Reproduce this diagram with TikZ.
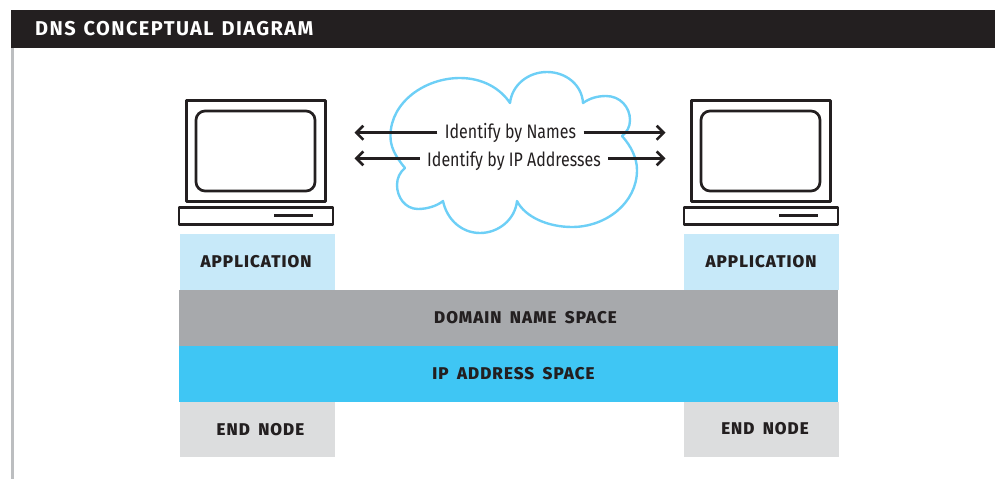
\documentclass[tikz,border=0pt]{standalone}
\usepackage{fontspec}
\setmainfont{Fira Sans}
\newfontfamily\heavyfont[LetterSpace=6,WordSpace=1.7]{Fira Sans ExtraBold}
\newfontfamily\titlefont[LetterSpace=7,WordSpace=1.3]{Fira Sans}
\usetikzlibrary{arrows.meta}
\definecolor{hdrblack}{HTML}{231F20}
\definecolor{appblue}{HTML}{C7E9F9}
\definecolor{domgray}{HTML}{A7A9AC}
\definecolor{ipblue}{HTML}{3FC6F4}
\definecolor{endgray}{HTML}{DCDDDE}
\definecolor{cloudblue}{HTML}{6DCFF6}
\definecolor{railgray}{HTML}{BCBEC0}
\tikzset{
  layer/.style={inner sep=0,outer sep=0},
  tag/.style={inner sep=0,text=hdrblack,font=\heavyfont\fontsize{17}{19}\selectfont},
  hw/.style={draw=hdrblack,line width=2.7pt,inner sep=0,outer sep=0},
  say/.style={inner sep=0,outer sep=7.5pt,text=hdrblack,font=\fontsize{19.5}{22}\selectfont\addfontfeature{FakeStretch=0.82}},
  link/.style={draw=hdrblack,line width=2.6pt,-{Straight Barb[length=7pt,width=14pt,line width=2.6pt]}}
}
\begin{document}
\begin{tikzpicture}[x=1pt,y=-1pt,line join=round]
  \useasboundingbox (0,0) rectangle (995,479);
  %% Title bar and rail.
  \node[fill=railgray,minimum width=3pt,minimum height=431pt,inner sep=0,outer sep=0] (Rail) at (12.5,263.5) {};
  \node[fill=hdrblack,minimum width=984pt,minimum height=38pt,inner sep=0,outer sep=0] (Title) at (503,29) {};
  \node[inner sep=0,anchor=west,text=white,font=\titlefont\fontsize{20}{22}\selectfont\bfseries] (TitleText) at (35,29) {DNS CONCEPTUAL DIAGRAM};

  %% Cloud behind the arrows.
  \draw[cloudblue,line width=2.4pt]
    (405,168) .. controls (395,156) and (390,146) .. (390.5,135)
    .. controls (391,102) and (425,78) .. (460,78)
    .. controls (482,78) and (500,88) .. (510,103)
    .. controls (512,85) and (528,72) .. (547,72)
    .. controls (566,72) and (582,85) .. (583,103)
    .. controls (590,98) and (598,96) .. (606,96)
    .. controls (620,96) and (630,107) .. (630,120)
    .. controls (630,127) and (627,132) .. (622,136)
    .. controls (631,146) and (637,158) .. (637,170)
    .. controls (637,203) and (606,227) .. (572,227)
    .. controls (548,227) and (525,217) .. (517,201)
    .. controls (515,220) and (498,233) .. (480,233)
    .. controls (462,233) and (447,220) .. (443,201)
    .. controls (437,206) and (427,209) .. (418,209)
    .. controls (405,209) and (397,197) .. (397,185)
    .. controls (397,178) and (400,172) .. (405,168) -- cycle;

  %% Left computer.
  \node[hw,minimum width=139pt,minimum height=100.5pt] (Mon1) at (255.7,151) {};
  \node[hw,rounded corners=9pt,minimum width=119pt,minimum height=80pt] (Scr1) at (255.5,151) {};
  \node[hw,minimum width=154pt,minimum height=17pt] (Base1) at (256,215.7) {};
  \coordinate (SlotA1) at (274,215.3);
  \coordinate (SlotB1) at (312.5,215.3);
  \draw[hdrblack,line width=2.4pt] (SlotA1) -- (SlotB1);
  %% Right computer.
  \node[hw,minimum width=139pt,minimum height=100.5pt] (Mon2) at (760.7,151) {};
  \node[hw,rounded corners=9pt,minimum width=119pt,minimum height=80pt] (Scr2) at (760.5,151) {};
  \node[hw,minimum width=154pt,minimum height=17pt] (Base2) at (761,215.7) {};
  \coordinate (SlotA2) at (779,215.3);
  \coordinate (SlotB2) at (817.5,215.3);
  \draw[hdrblack,line width=2.4pt] (SlotA2) -- (SlotB2);

  %% Labels between the computers.
  \node[say] (Names) at (510.5,133) {Identify by Names};
  \node[say] (Addrs) at (514,161) {Identify by IP Addresses};
  \coordinate (NamesL) at (354.5,132.7);
  \coordinate (NamesR) at (665.5,132.7);
  \coordinate (AddrsL) at (354.5,158.4);
  \coordinate (AddrsR) at (665.5,158.4);
  \draw[link] (Names.west |- NamesL) -- (NamesL);
  \draw[link] (Names.east |- NamesR) -- (NamesR);
  \draw[link] (Addrs.west |- AddrsL) -- (AddrsL);
  \draw[link] (Addrs.east |- AddrsR) -- (AddrsR);

  %% Layers.
  \node[layer,fill=appblue,minimum width=155pt,minimum height=56pt] (App1) at (257.5,262) {};
  \node[layer,fill=appblue,minimum width=155pt,minimum height=56pt] (App2) at (761.5,262) {};
  \node[layer,fill=domgray,minimum width=659pt,minimum height=56pt] (Domain) at (508.5,318) {};
  \node[layer,fill=ipblue,minimum width=659pt,minimum height=56pt] (Ip) at (508.5,374) {};
  \node[layer,fill=endgray,minimum width=155pt,minimum height=55pt] (End1) at (257.5,429.5) {};
  \node[layer,fill=endgray,minimum width=155pt,minimum height=55pt] (End2) at (761.5,429.5) {};
  %% Label text does not sit centred in every band.
  \node[tag] (AppText1) at (256,261.5) {APPLICATION};
  \node[tag] (AppText2) at (761,261.5) {APPLICATION};
  \node[tag] (DomainText) at (525.5,317.5) {DOMAIN NAME SPACE};
  \node[tag] (IpText) at (513.5,373.5) {IP ADDRESS SPACE};
  \node[tag] (EndText1) at (260.5,430) {END NODE};
  \node[tag] (EndText2) at (765,429) {END NODE};
\end{tikzpicture}
\end{document}
